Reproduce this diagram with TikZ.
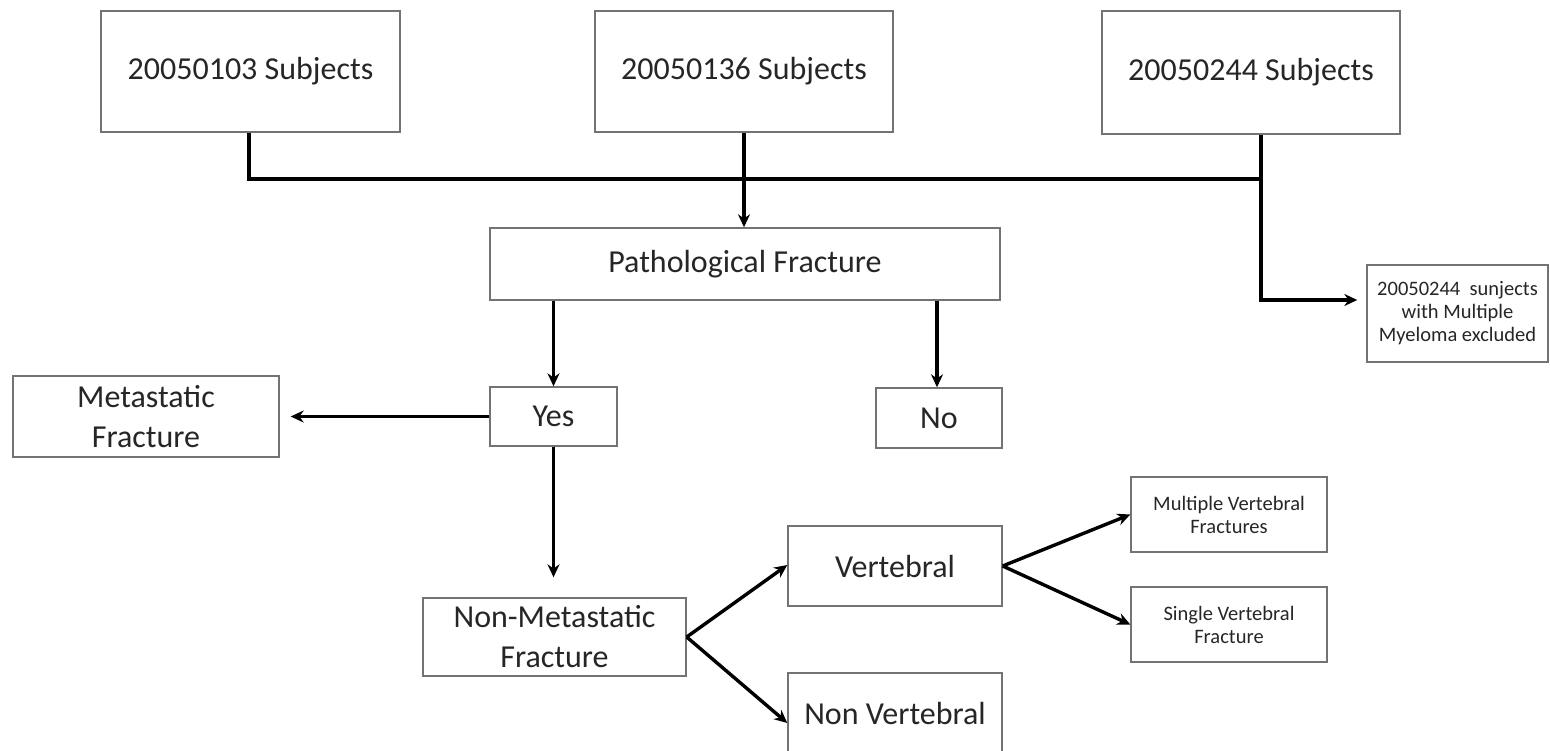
\documentclass[tikz,border=0pt]{standalone}
\usepackage{fontspec}
\setmainfont{Carlito}
\usetikzlibrary{arrows.meta}
\tikzset{
  box/.style={draw=black!55, line width=1.4pt, fill=white, inner sep=0pt, align=center, text=black!85},
  big/.style={font=\fontsize{32}{40}\selectfont},
  small/.style={font=\fontsize{20.5}{23}\selectfont},
  conn/.style={line width=3.4pt, black},
  arr/.style={conn, -{Stealth[length=13pt,width=12pt]}},
}
\begin{document}
\begin{tikzpicture}[x=1pt,y=-1pt]
\clip (0,0) rectangle (1550,750);
\fill[white] (0,0) rectangle (1550,750);
% nodes
\node[box,big,minimum width=299pt,minimum height=121pt] (b1) at (250.5,71.5) {20050103 Subjects};
\node[box,big,minimum width=298pt,minimum height=121pt] (b2) at (744,71.5) {20050136 Subjects};
\node[box,big,minimum width=298pt,minimum height=123pt] (b3) at (1251,72.5) {20050244 Subjects};
\node[box,big,minimum width=510pt,minimum height=72pt] (path) at (745,264) {Pathological Fracture};
\node[box,small,minimum width=181pt,minimum height=97pt] (excl) at (1457.5,313.5) {20050244\ \ sunjects\\with Multiple\\Myeloma excluded};
\node[box,big,minimum width=127pt,minimum height=59pt] (yes) at (553.5,416.5) {Yes};
\node[box,big,minimum width=126pt,minimum height=60pt] (no) at (939,418) {No};
\node[box,big,minimum width=266pt,minimum height=81pt] (meta) at (146,416.5) {Metastatic\\Fracture};
\node[box,big,minimum width=263pt,minimum height=78pt] (nonmeta) at (554.5,637) {Non-Metastatic\\Fracture};
\node[box,big,minimum width=214pt,minimum height=80pt] (vert) at (895,566) {Vertebral};
\node[box,big,minimum width=214pt,minimum height=90pt] (nonvert) at (895,718) {};
\node[big,text=black!85] (nonverttext) at (895,713) {Non Vertebral};
\node[box,small,minimum width=196pt,minimum height=75pt] (mult) at (1229,514.5) {Multiple Vertebral\\Fractures};
\node[box,small,minimum width=196pt,minimum height=75pt] (single) at (1229,624.5) {Single Vertebral\\Fracture};
% coordinates
\coordinate (j1) at (249,179);
\coordinate (j3) at (1261,179);
\coordinate (e1) at (1261,300);
% connectors
\draw[conn] (j1 |- b1.south) -- (j1) -- (j3);
\draw[conn] (j3 |- b3.south) -- (j3);
\draw[arr] (j3) -- (e1) -- ([xshift=-9pt]excl.west |- e1);
\draw[arr] (b2.south) -- (path.north -| b2.south);
\draw[arr] (path.south -| yes.north) -- (yes.north);
\draw[arr] ([xshift=-2pt]path.south -| no.north) -- ([xshift=-2pt]no.north);
\draw[arr, shorten >=11pt] (yes.west) -- (meta.east |- yes.west);
\draw[arr, shorten >=20pt] (yes.south) -- (nonmeta.north -| yes.south);
\draw[arr] (nonmeta.east) -- ([yshift=1pt]vert.west);
\draw[arr] (nonmeta.east) -- ([yshift=-5pt]nonvert.west);
\draw[arr] (vert.east) -- (mult.west);
\draw[arr] (vert.east) -- (single.west);
\end{tikzpicture}
\end{document}
